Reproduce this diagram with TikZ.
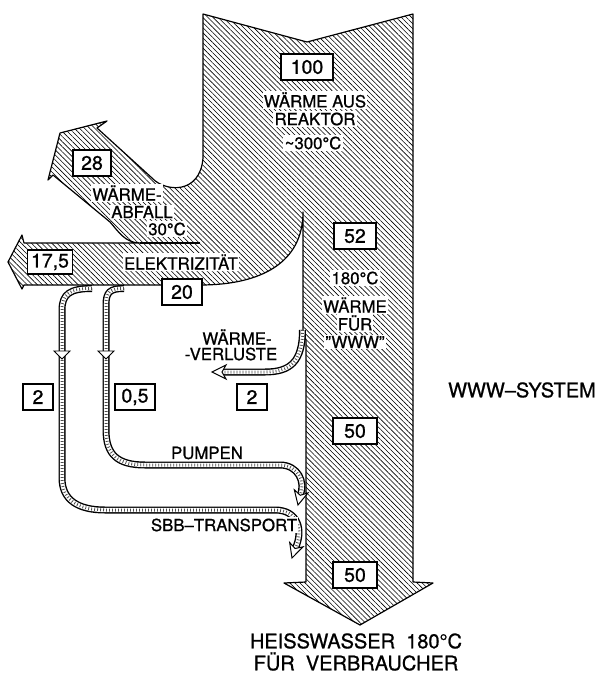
\documentclass[tikz,border=0pt]{standalone}
\usepackage{fontspec}
\setmainfont{TeX Gyre Heros}[FakeBold=0.9]
\usepackage{tikz}
\usetikzlibrary{patterns.meta}

\begin{document}
\begin{tikzpicture}[x=1pt,y=-1pt,
  flow/.style={draw,line width=1.2pt,line join=round,
    pattern={Lines[angle=-45,distance=3.6pt,line width=0.6pt]}},
  lab/.style={fill=white,inner sep=1.2pt,font=\fontsize{16.8}{18}\selectfont},
  numbox/.style={draw,line width=1.1pt,fill=white,inner sep=3pt,
    minimum height=26pt,font=\fontsize{19.5}{21}\selectfont},
  big/.style={font=\fontsize{20}{22}\selectfont,align=center},
  pipe/.style={draw,line width=7pt,
    postaction={draw,white,line width=4.2pt},
    postaction={draw,black!70,line width=3pt,dash pattern=on 0.8pt off 2.2pt}},
  pics/pipetip/.style={code={
    \draw[line width=1pt,fill=white,line join=miter] (0,0) -- (-14,7) -- (-10,0) -- (-14,-7) -- cycle;}},
  pics/flowmark/.style={code={
    \draw[line width=0.9pt,fill=white,line join=miter] (-8,-3) -- (8,-3) -- (0,5) -- cycle;}}]
\fill[white] (0,0) rectangle (601,675);
\useasboundingbox (0,0) rectangle (601,675);

\draw[flow] (203,14) -- (307,42) -- (413,14) -- (413,582) -- (433,583) -- (360,625)
  -- (284,583) -- (306,582) -- (306,340) -- (303,332) -- (303,212)
  .. controls (303,262) and (262,285) .. (200,285) -- (24,285) -- (22,289) -- (8,262)
  -- (22,235) -- (24,243) -- (140,243) .. controls (125,243) and (118,231) .. (110,222)
  -- (53,175) -- (48,180) -- (60,133) -- (107,121) -- (97,128) -- (152,178)
  .. controls (165,192) and (200,195) .. (203,158) -- cycle;
\draw[line width=1.2pt] (140,243) -- (200,243);

\path[pipe] (92,288.5) .. controls (70,288.5) and (62,294) .. (62,310) -- (62,478)
  .. controls (62,500) and (78,510) .. (105,510) -- (275,510)
  .. controls (298,510) and (304,530) .. (295,549);
\path[pipe] (124,288.5) .. controls (110,288.5) and (106,292) .. (106,305) -- (106,430)
  .. controls (106,455) and (118,465) .. (145,465) -- (280,465)
  .. controls (298,465) and (306,482) .. (300,496);
\path[pipe] (302.5,330) .. controls (302.5,362) and (290,372) .. (265,372) -- (221,372);
\pic[rotate=-108] at (292,558) {pipetip};
\pic[rotate=-103] at (298,505) {pipetip};
\pic[rotate=180] at (212,372) {pipetip};
\pic at (62,354) {flowmark};
\pic at (106,354) {flowmark};

\node[numbox,minimum width=52pt] (reactorval) at (307,67) {100};
\node[lab] (reactor1) at (315,100) {WÄRME AUS};
\node[lab] (reactor2) at (315,119) {REAKTOR};
\node[lab] (reactor3) at (313,143) {\textasciitilde300°C};
\node[numbox,minimum width=38pt] (wasteval) at (92,163) {28};
\node[lab] (waste1) at (127,193) {WÄRME-};
\node[lab] (waste2) at (142,212) {ABFALL};
\node[lab] (waste3) at (167,229) {30°C};
\node[numbox,minimum width=45pt,minimum height=24pt] (elecout) at (50,262) {17,5};
\node[lab] (elec) at (181,262) {ELEKTRIZITÄT};
\node[numbox,minimum width=40pt] (elecval) at (182,292) {20};
\node[numbox,minimum width=42pt] (wwwval) at (355,236) {52};
\node[lab] (www1) at (355,278) {180°C};
\node[lab] (www2) at (355,305) {WÄRME};
\node[lab] (www3) at (355,323) {FÜR};
\node[lab] (www4) at (355,342) {"WWW"};
\node[numbox,minimum width=44pt] (netval) at (355,431) {50};
\node[lab] (loss1) at (237,337) {WÄRME-};
\node[lab] (loss2) at (231,354) {-VERLUSTE};
\node[numbox,minimum width=30pt] (lossval) at (252,397) {2};
\node[numbox,minimum width=30pt] (sbbval) at (38,397) {2};
\node[numbox,minimum width=40pt] (pumpval) at (135,397) {0,5};
\node[lab] (pump) at (207,453) {PUMPEN};
\node[lab] (sbb) at (224,525) {SBB–TRANSPORT};
\node[numbox,minimum width=44pt] (outval) at (355,575) {50};
\node[big] (system) at (522,390) {WWW–SYSTEM};
\node[big] (consumer) at (356,652) {HEISSWASSER\ \ 180°C\\FÜR\ \ VERBRAUCHER};
\end{tikzpicture}
\end{document}
